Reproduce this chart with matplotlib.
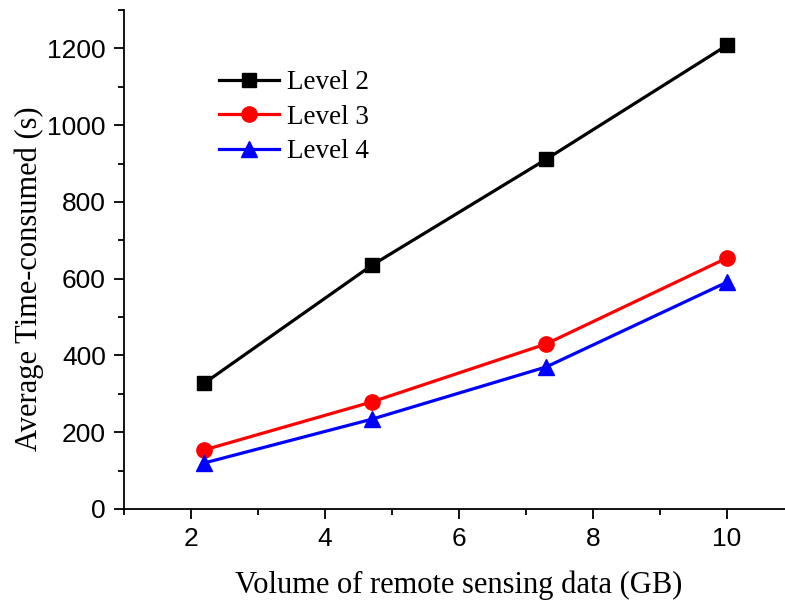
import matplotlib.pyplot as plt
from matplotlib.ticker import MultipleLocator

volume = [2.2, 4.7, 7.3, 10.0]
level2 = [328, 635, 911, 1208]
level3 = [154, 279, 430, 654]
level4 = [120, 234, 370, 591]

fig = plt.figure(figsize=(7.85, 6), dpi=100)
ax = fig.add_axes([124 / 785, 91 / 600, 670 / 785, 499 / 600])

ax.plot(volume, level2, color='black', marker='s', markersize=10, linewidth=2.3, label='Level 2')
ax.plot(volume, level3, color='red', marker='o', markersize=11, linewidth=2.3, label='Level 3')
ax.plot(volume, level4, color='blue', marker='^', markersize=12, linewidth=2.3, label='Level 4')

ax.set_xlim(1, 11)
ax.set_ylim(0, 1300)
ax.xaxis.set_major_locator(MultipleLocator(2))
ax.xaxis.set_minor_locator(MultipleLocator(1))
ax.yaxis.set_major_locator(MultipleLocator(200))
ax.yaxis.set_minor_locator(MultipleLocator(100))
ax.set_yticks([0, 200, 400, 600, 800, 1000, 1200])
ax.set_xticks([2, 4, 6, 8, 10])

for side in ['top', 'right']:
    ax.spines[side].set_visible(False)
for side in ['left', 'bottom']:
    ax.spines[side].set_linewidth(1.3)

ax.tick_params(which='major', direction='out', length=7, width=1.3, pad=6)
ax.tick_params(which='minor', direction='out', length=4, width=1.3)
for lbl in ax.get_xticklabels() + ax.get_yticklabels():
    lbl.set_fontfamily('Liberation Sans')
    lbl.set_fontsize(19)

ax.set_xlabel('Volume of remote sensing data (GB)', fontfamily='Liberation Serif', fontsize=22, labelpad=14)
ax.set_ylabel('Average Time-consumed (s)', fontfamily='Liberation Serif', fontsize=22)
ax.yaxis.set_label_coords(-0.12, 0.462)

leg = ax.legend(loc='upper left', bbox_to_anchor=(0.106, 0.928), frameon=False,
                prop={'family': 'Liberation Serif', 'size': 19.5}, handlelength=2.2,
                labelspacing=0.35, handletextpad=0.3)

fig.savefig('out.png', dpi=100)
